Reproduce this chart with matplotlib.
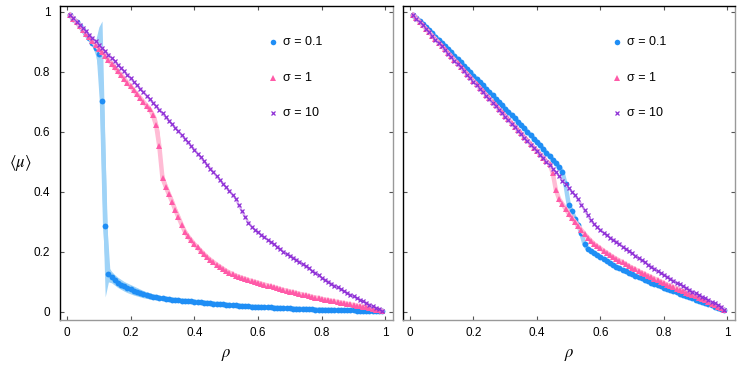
import numpy as np
import matplotlib
matplotlib.use("Agg")
import matplotlib.pyplot as plt

plt.rcParams['font.family'] = ['Liberation Sans', 'DejaVu Sans']
plt.rcParams['mathtext.fontset'] = 'stix'

# ----------------------------
# Data
# ----------------------------
rho = np.round(np.arange(1, 100) / 100, 2)

# left panel
blue_left = [.990, .978, .965, .952, .939, .926, .913, .898, .880, .860,
             .703, .287, .125, .115, .106, .098, .091, .085, .080, .075,
             .071, .067, .063, .059, .056, .054, .051, .049, .047, .045,
             .044, .042, .041, .040, .039, .038, .037, .036, .035, .034,
             .033, .032, .031, .030, .029, .028, .027, .026, .025, .024,
             .023, .022, .022, .021, .020, .019, .019, .018, .017, .017,
             .016, .016, .015, .015, .014, .014, .013, .013, .012, .012,
             .011, .011, .010, .010, .010, .009, .009, .008, .008, .008,
             .007, .007, .007, .006, .006, .006, .005, .005, .005, .005,
             .004, .004, .004, .003, .003, .003, .002, .002, .002]
pink_left = [.990, .978, .965, .953, .940, .928, .915, .903, .890, .878,
             .865, .853, .840, .828, .815, .802, .790, .777, .764, .752,
             .739, .726, .714, .701, .688, .675, .655, .622, .552, .445,
             .418, .392, .368, .340, .316, .291, .268, .252, .239, .226,
             .215, .204, .193, .183, .174, .166, .158, .151, .144, .137,
             .131, .126, .121, .117, .113, .110, .106, .103, .100, .097,
             .094, .091, .088, .085, .082, .079, .076, .073, .071, .068,
             .065, .063, .060, .058, .055, .053, .050, .048, .046, .043,
             .041, .039, .037, .035, .033, .031, .029, .027, .025, .023,
             .021, .019, .017, .015, .012, .010, .008, .005, .003]
purple_left = [.990, .979, .968, .957, .946, .935, .924, .913, .902, .891,
               .880, .869, .858, .847, .836, .824, .813, .802, .790, .779,
               .767, .756, .744, .733, .721, .709, .698, .686, .674, .662,
               .650, .638, .626, .614, .602, .590, .578, .565, .553, .541,
               .528, .516, .503, .491, .478, .466, .453, .441, .428, .415,
               .403, .391, .378, .355, .335, .316, .298, .284, .274, .265,
               .257, .249, .241, .233, .225, .217, .209, .201, .194, .188,
               .181, .174, .167, .159, .152, .145, .137, .130, .122, .114,
               .107, .101, .094, .088, .082, .075, .069, .063, .057, .052,
               .046, .041, .035, .030, .024, .019, .014, .009, .004]

# spread bands of the left panel (rho 0.08..0.35 and 0.25..0.45)
blue_band_lo = [.885, .855, .80, .40, .05, .10, .097, .089, .081, .075,
                .069, .064, .060, .056, .053, .050, .047, .045, .043, .042,
                .040, .039, .038, .037, .036, .035, .034, .034]
blue_band_hi = [.910, .905, .95, .97, .52, .15, .135, .124, .115, .108,
                .101, .096, .091, .086, .081, .076, .071, .067, .064, .060,
                .058, .055, .052, .050, .048, .047, .046, .044]
pink_band_lo = [.678, .664, .640, .595, .500, .425, .400, .375, .352, .325,
                .302, .278, .256, .241, .229, .217, .206, .196, .186, .177, .169]
pink_band_hi = [.698, .686, .670, .650, .600, .470, .436, .409, .384, .355,
                .330, .304, .280, .263, .249, .235, .224, .212, .200, .189, .179]

# right panel
blue_right = [.990, .980, .970, .960, .950, .939, .929, .918, .908, .897,
              .887, .876, .865, .854, .843, .832, .821, .810, .799, .788,
              .777, .766, .755, .744, .733, .722, .711, .700, .689, .678,
              .667, .656, .645, .634, .623, .612, .601, .589, .578, .566,
              .555, .543, .531, .519, .507, .495, .482, .468, .425, .358,
              .335, .310, .290, .262, .225, .210, .203, .196, .189, .183,
              .177, .170, .162, .156, .150, .145, .140, .135, .130, .126,
              .121, .116, .112, .107, .103, .098, .094, .090, .085, .081,
              .077, .073, .069, .065, .061, .057, .053, .049, .045, .041,
              .037, .034, .030, .026, .022, .018, .014, .010, .006]
pink_right = [.990, .979, .967, .956, .944, .933, .921, .910, .898, .887,
              .875, .864, .852, .840, .829, .817, .805, .794, .782, .770,
              .759, .747, .735, .724, .712, .700, .689, .677, .665, .654,
              .642, .630, .618, .607, .595, .583, .572, .560, .548, .537,
              .525, .514, .502, .494, .462, .405, .376, .360, .344, .328,
              .314, .300, .286, .273, .260, .248, .237, .227, .219, .212,
              .204, .197, .190, .183, .177, .171, .165, .159, .153, .147,
              .142, .136, .131, .126, .121, .116, .111, .106, .101, .096,
              .091, .087, .082, .078, .073, .069, .064, .060, .056, .052,
              .047, .043, .039, .034, .028, .023, .017, .012, .006]
purple_right = [.990, .978, .967, .955, .943, .932, .920, .908, .896, .885,
                .873, .861, .850, .838, .826, .815, .803, .791, .779, .768,
                .756, .744, .733, .721, .709, .698, .686, .674, .662, .651,
                .639, .627, .616, .604, .593, .581, .570, .558, .547, .535,
                .524, .513, .501, .490, .478, .466, .453, .438, .425, .413,
                .401, .389, .375, .358, .340, .322, .305, .293, .282, .273,
                .264, .256, .248, .241, .234, .226, .218, .210, .202, .195,
                .187, .180, .172, .165, .158, .151, .144, .137, .130, .124,
                .117, .111, .104, .098, .092, .086, .080, .074, .068, .062,
                .056, .051, .045, .040, .034, .029, .023, .017, .008]

labels = ['σ = 0.1', 'σ = 1', 'σ = 10']
tick_vals = [0, 0.2, 0.4, 0.6, 0.8, 1]
tick_text = ['0', '0.2', '0.4', '0.6', '0.8', '1']

BLUE, BLUE_L = '#1f8ef5', '#9fd3f7'
PINK, PINK_L = '#ff5aa8', '#ffbcd5'
PURP, PURP_L = '#8e2fd6', '#dcb4f2'


# ----------------------------
# Styling helper
# ----------------------------
def style_axes(ax, show_y):
    ax.set_xlim(-0.022, 1.024)
    ax.set_ylim(-0.027, 1.02)
    ax.set_xticks(tick_vals)
    ax.set_yticks(tick_vals)
    ax.set_xticklabels(tick_text)
    ax.set_yticklabels(tick_text if show_y else [])
    ax.tick_params(direction='in', length=3, width=0.8, color='#555555',
                   top=True, right=True, labelsize=8.5, pad=5)
    ax.tick_params(axis='y', pad=7)
    ax.spines['left'].set_color('black')
    ax.spines['top'].set_color('black')
    ax.spines['bottom'].set_color('#999999')
    ax.spines['right'].set_color('#999999')
    for s in ax.spines.values():
        s.set_linewidth(1.0)
    ax.set_xlabel(r'$\rho$', fontsize=12, labelpad=6)


def draw_series(ax, b, p, q):
    ax.plot(rho, b, color=BLUE_L, lw=3.2, zorder=1)
    ax.plot(rho, b, 'o', color=BLUE, ms=4.2, mew=0, zorder=2)
    ax.plot(rho, p, color=PINK_L, lw=3.2, zorder=3)
    ax.plot(rho, p, '^', color=PINK, ms=4.8, mew=0, zorder=4)
    ax.plot(rho, q, color=PURP_L, lw=1.8, zorder=5)
    ax.plot(rho, q, 'x', color=PURP, ms=3.0, mew=0.9, zorder=6)


def draw_legend(ax, x_marker, x_text):
    marks = [('o', BLUE, 4.0), ('^', PINK, 4.5), ('x', PURP, 2.8)]
    ys = [0.885, 0.771, 0.659]
    for (m, c, s), y, lab in zip(marks, ys, labels):
        ax.plot([x_marker], [y], m, color=c, ms=s, mew=0.9 if m == 'x' else 0,
                transform=ax.transAxes, clip_on=False)
        ax.text(x_text, y, lab, transform=ax.transAxes, va='center',
                fontsize=9)


# ----------------------------
# Figure
# ----------------------------
fig = plt.figure(figsize=(7.47, 3.65), dpi=100)
ax1 = fig.add_axes([60 / 747, 45 / 365, 333 / 747, 314 / 365])
ax2 = fig.add_axes([403 / 747, 45 / 365, 332 / 747, 314 / 365])

ax1.fill_between(rho[7:35], blue_band_lo, blue_band_hi, color=BLUE_L,
                 lw=0, zorder=0)
ax1.fill_between(rho[24:45], pink_band_lo, pink_band_hi, color=PINK_L,
                 lw=0, zorder=0)
draw_series(ax1, blue_left, pink_left, purple_left)
draw_series(ax2, blue_right, pink_right, purple_right)

style_axes(ax1, True)
style_axes(ax2, False)
ax1.set_ylabel(r'$\langle\mu\rangle$', fontsize=12, rotation=0,
               labelpad=10, va='center')

draw_legend(ax1, 0.64, 0.67)
draw_legend(ax2, 0.645, 0.674)

fig.savefig('out.png', dpi=100)
